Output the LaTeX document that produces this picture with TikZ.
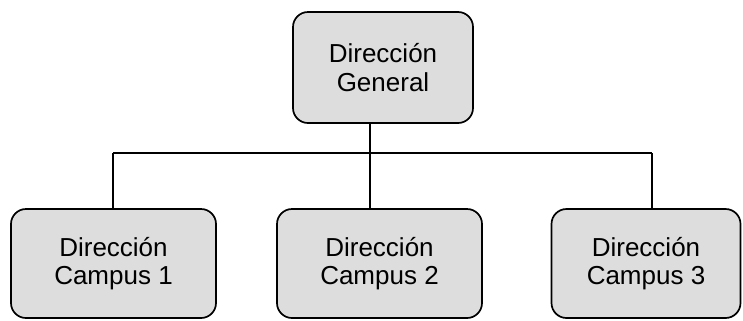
\documentclass[tikz,border=0pt]{standalone}
\usepackage{fontspec}
\setmainfont{Liberation Sans}
\definecolor{boxgray}{HTML}{DDDDDD}
\begin{document}
\begin{tikzpicture}[x=1bp,y=-1bp,
  orgbox/.style={draw=black, line width=1.7bp, fill=boxgray, rounded corners=15bp,
    inner sep=0pt, outer sep=0pt, align=center,
    font=\fontsize{26bp}{28.5bp}\selectfont},
  link/.style={draw=black, line width=1.6bp}]
\useasboundingbox (0,0) rectangle (743,320);
\node[orgbox, minimum width=180bp, minimum height=111bp] (top) at (383,67.5) {Dirección\\General};
\node[orgbox, minimum width=205bp, minimum height=109bp] (c1) at (113.5,263.5) {Dirección\\Campus 1};
\node[orgbox, minimum width=205bp, minimum height=109bp] (c2) at (379.5,263.5) {Dirección\\Campus 2};
\node[orgbox, minimum width=189bp, minimum height=109bp] (c3) at (646,263.5) {Dirección\\Campus 3};
\coordinate (j) at (370,153);
\coordinate (hl) at (113,153);
\coordinate (hr) at (652,153);
\draw[link] (j |- top.south) -- (j);
\draw[link] (hl) -- (hr);
\draw[link] (hl) -- (hl |- c1.north);
\draw[link] (j) -- (j |- c2.north);
\draw[link] (hr) -- (hr |- c3.north);
\end{tikzpicture}
\end{document}
